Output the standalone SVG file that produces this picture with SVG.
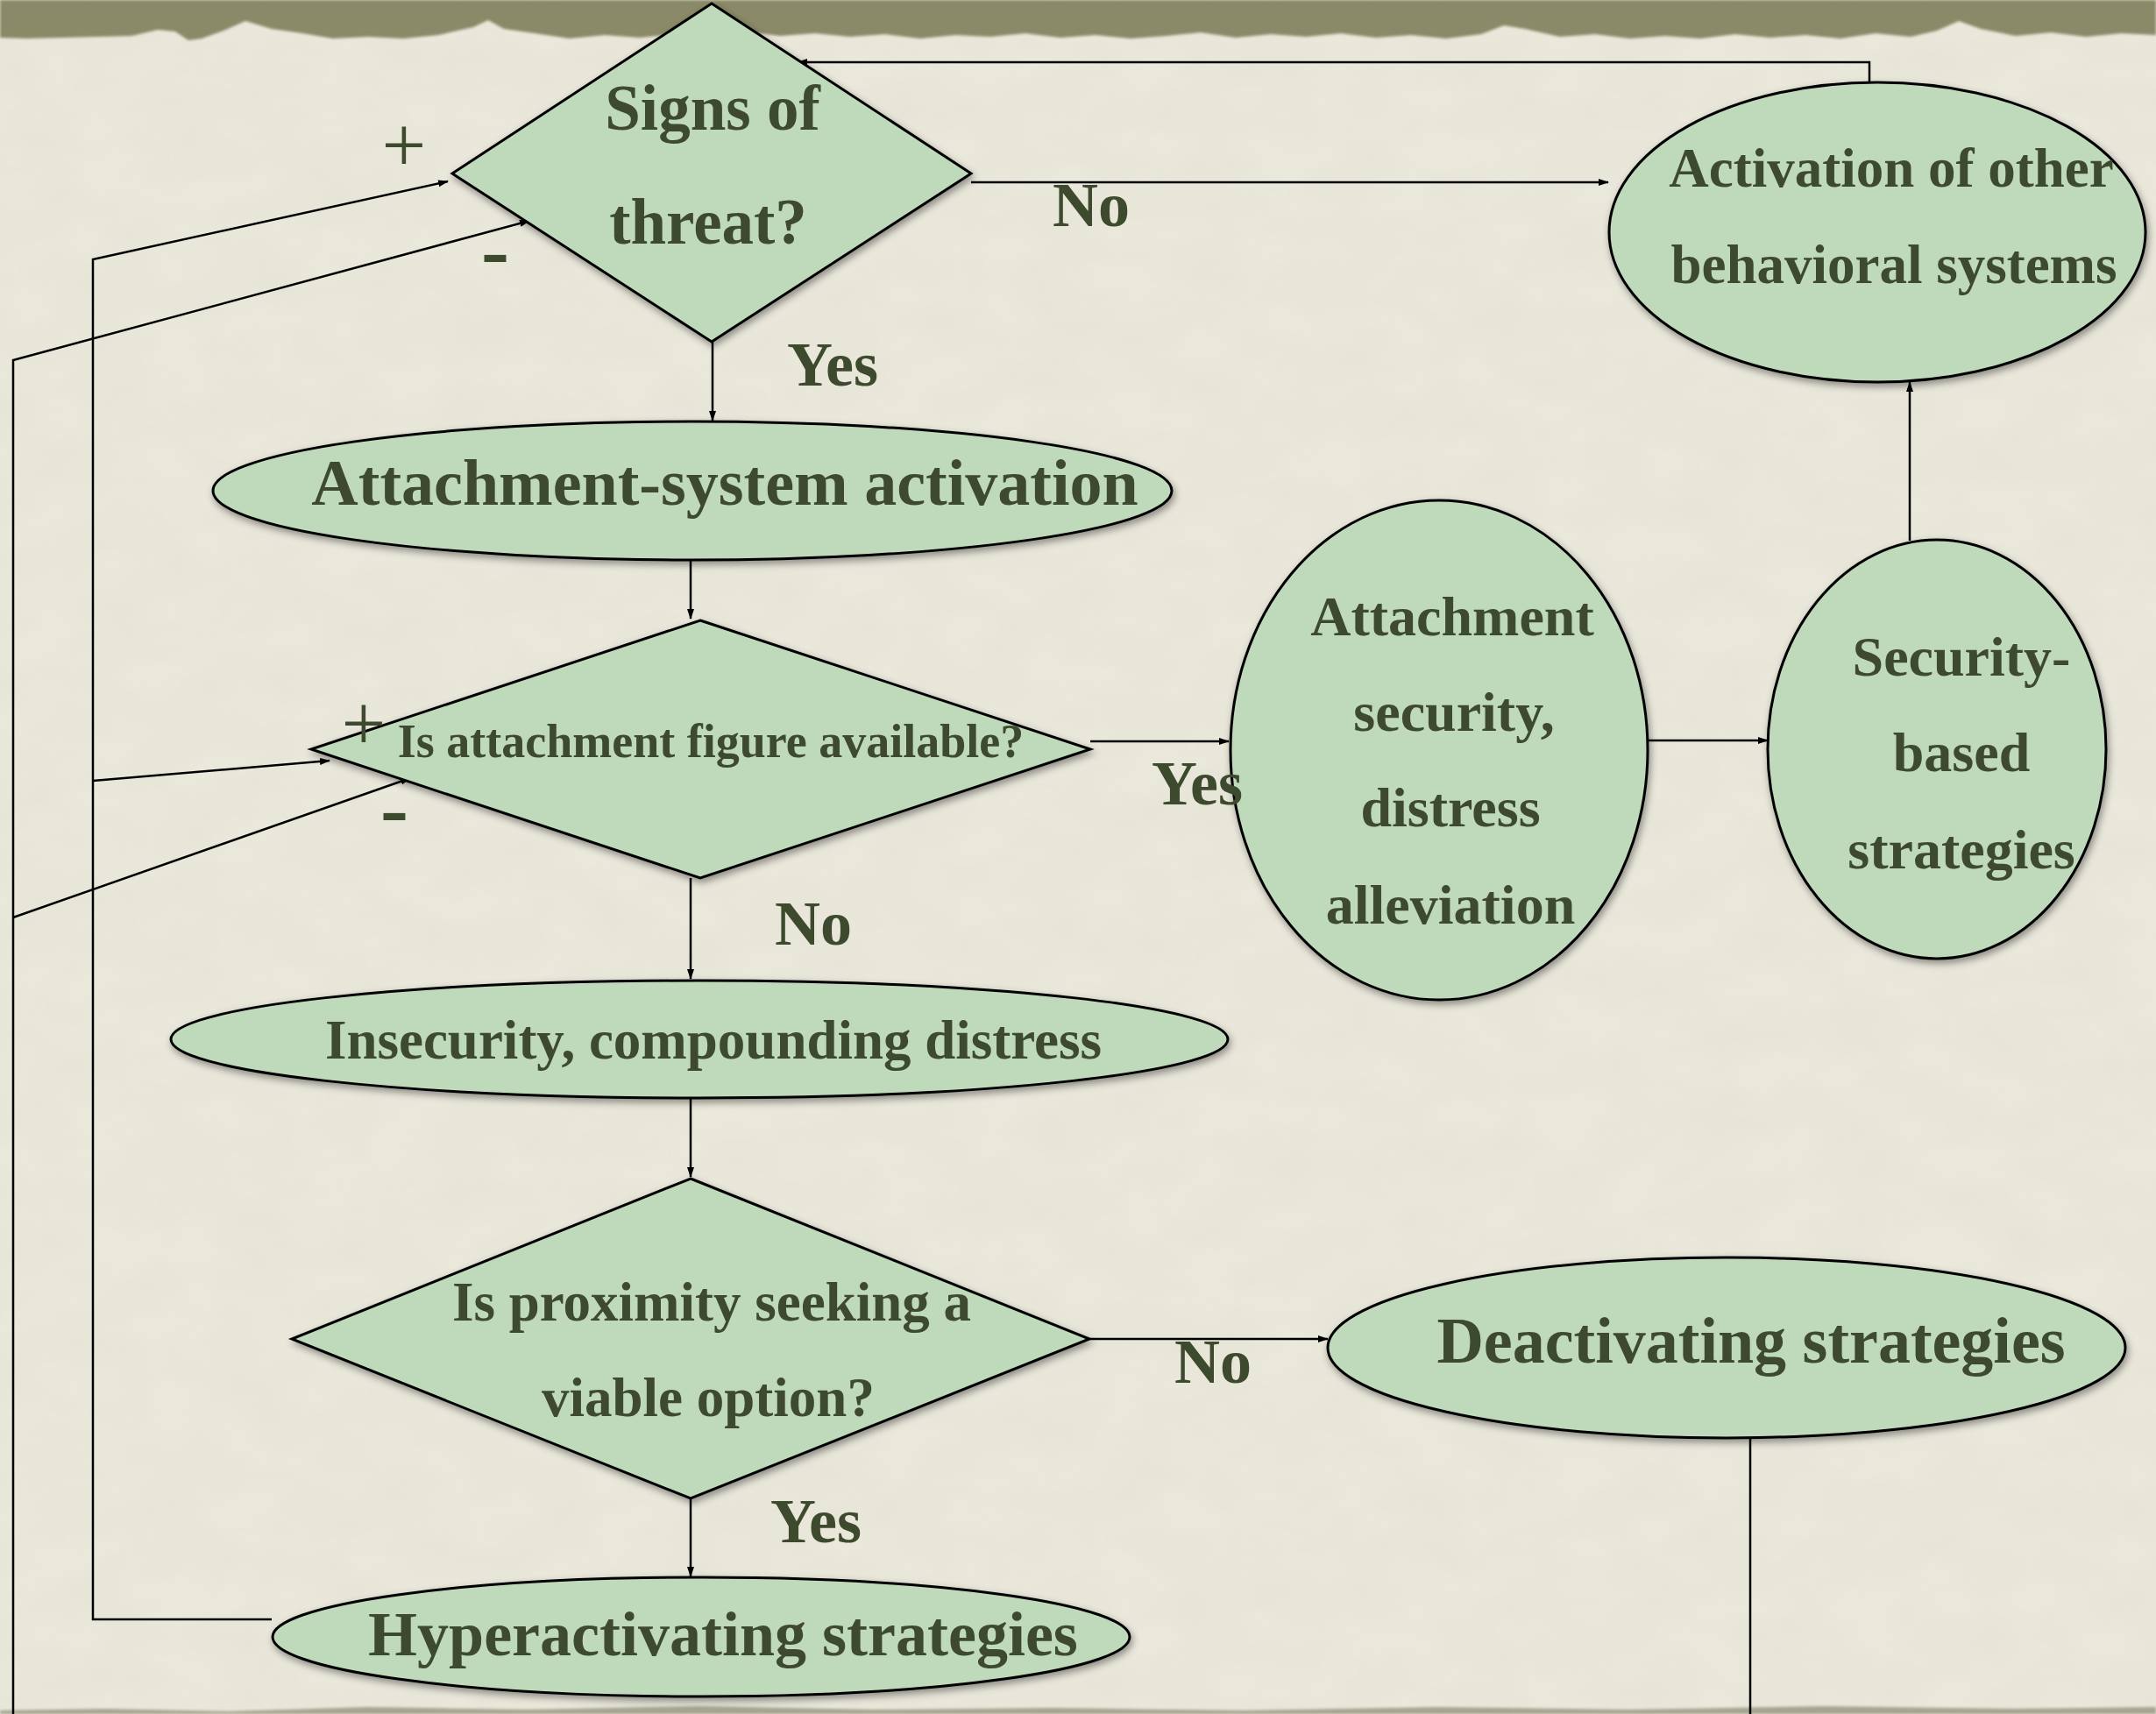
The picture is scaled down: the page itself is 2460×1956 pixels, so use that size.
<svg xmlns="http://www.w3.org/2000/svg" width="2460" height="1956" viewBox="0 0 2460 1956">
  <defs>
    <style>
      .node { fill: #bfd9bb; stroke: #000; stroke-width: 3; filter: url(#shadow); }
      .t { font-family: "Liberation Serif", "Times New Roman", serif; font-weight: bold; fill: #3e4a2d; text-anchor: middle; }
      .sign { font-family: "Liberation Serif", "Times New Roman", serif; fill: #3e4a2d; text-anchor: middle; }
      .conn { fill: none; stroke: #000; stroke-width: 2.5; }
      .arrow { marker-end: url(#ah); }
    </style>
    <marker id="ah" viewBox="0 0 12 8" refX="11" refY="4" markerWidth="12" markerHeight="8" markerUnits="userSpaceOnUse" orient="auto">
      <path d="M0,0 L12,4 L0,8 z" fill="#000"/>
    </marker>
    <filter id="shadow" x="-10%" y="-10%" width="120%" height="130%">
      <feDropShadow dx="2" dy="4" stdDeviation="4" flood-color="#000" flood-opacity="0.4"/>
    </filter>
    <filter id="grain" x="0" y="0" width="100%" height="100%">
      <feTurbulence type="fractalNoise" baseFrequency="0.012 0.02" numOctaves="4" seed="7" result="n"/>
      <feColorMatrix type="matrix" values="0 0 0 0 0.45  0 0 0 0 0.44  0 0 0 0 0.35  0 0 0 0.35 -0.05"/>
    </filter>
    <filter id="soft" filterUnits="userSpaceOnUse" x="-20" y="-20" width="2500" height="2000">
      <feGaussianBlur stdDeviation="1.5"/>
    </filter>
  </defs>

  <!-- paper background -->
  <rect width="2460" height="1956" fill="#ebe9dc"/>
  <rect width="2460" height="1956" filter="url(#grain)" opacity="0.3"/>

  <!-- torn strip along the top edge -->
  <path fill="#8a8a68" filter="url(#soft)" d="M0,0 H2460 V40 L2420,38 L2380,42 L2340,37 L2300,41 L2260,33 L2235,24 L2210,35 L2180,42 L2140,38 L2100,44 L2060,40 L2020,43 L1980,39 L1940,44 L1900,41 L1860,44 L1820,39 L1780,42 L1740,33 L1716,29 L1690,39 L1650,44 L1610,40 L1570,43 L1530,38 L1490,42 L1450,39 L1410,43 L1370,37 L1330,41 L1290,44 L1250,40 L1210,43 L1170,38 L1130,42 L1090,40 L1050,44 L1010,39 L970,42 L930,38 L890,41 L850,36 L810,42 L770,39 L730,43 L690,40 L650,44 L610,38 L575,33 L557,23 L540,31 L500,40 L460,44 L420,42 L380,44 L345,38 L310,33 L280,24 L255,35 L230,44 L215,46 L200,36 L180,34 L150,41 L110,42 L70,43 L30,44 L0,43 Z"/>
  <!-- worn strip along the bottom edge -->
  <path fill="#6f6f55" opacity="0.55" filter="url(#soft)" d="M0,1956 V1952 L120,1950 L260,1953 L420,1948 L600,1951 L800,1947 L1000,1951 L1200,1949 L1420,1952 L1640,1948 L1860,1951 L2080,1947 L2300,1950 L2460,1948 V1956 Z"/>

  <!-- connectors -->
  <g id="connectors">
    <path class="conn arrow" d="M813,390 V480"/>
    <path class="conn arrow" d="M788,640 V706"/>
    <path class="conn arrow" d="M788,1002 V1117"/>
    <path class="conn arrow" d="M788,1253 V1343"/>
    <path class="conn arrow" d="M788,1710 V1799"/>
    <path class="conn arrow" d="M1243,1528 H1515"/>
    <path class="conn arrow" d="M1108,208 H1835"/>
    <path class="conn arrow" d="M1244,846 H1402"/>
    <path class="conn arrow" d="M1859,845 H2017"/>
    <path class="conn arrow" d="M2179,617 V436"/>
    <path class="conn arrow" d="M2133,94 V71 H910"/>
    <path class="conn arrow" d="M310,1848 H106 V296 L511,207"/>
    <path class="conn arrow" d="M106,891 L376,868"/>
    <path class="conn" d="M1997,1641 V1956"/>
    <path class="conn arrow" d="M15,1956 V411 L604,252"/>
    <path class="conn arrow" d="M15,1047 L468,888"/>
  </g>

  <!-- decision: signs of threat -->
  <g id="threat">
    <polygon class="node" points="812,4 1108,198 812,390 516,198"/>
    <text class="t" x="813" y="148" font-size="73">Signs of</text>
    <text class="t" x="808" y="278" font-size="73">threat?</text>
  </g>

  <g id="activation">
    <ellipse class="node" cx="790" cy="560" rx="547" ry="79"/>
    <text class="t" x="827" y="576" font-size="74">Attachment-system activation</text>
  </g>

  <g id="available">
    <polygon class="node" points="799,708 1244,855 799,1002 355,855"/>
    <text class="t" x="811" y="864" font-size="54">Is attachment figure available?</text>
  </g>

  <g id="insecurity">
    <ellipse class="node" cx="798" cy="1186" rx="603" ry="67"/>
    <text class="t" x="814" y="1208" font-size="63">Insecurity, compounding distress</text>
  </g>

  <g id="proximity">
    <polygon class="node" points="788,1345 1243,1528 788,1710 333,1528"/>
    <text class="t" x="812" y="1507" font-size="63">Is proximity seeking a</text>
    <text class="t" x="808" y="1616" font-size="63">viable option?</text>
  </g>

  <g id="hyperactivating">
    <ellipse class="node" cx="800" cy="1868" rx="489" ry="68"/>
    <text class="t" x="825" y="1889" font-size="72">Hyperactivating strategies</text>
  </g>

  <g id="deactivating">
    <ellipse class="node" cx="1970" cy="1538" rx="455" ry="103"/>
    <text class="t" x="1998" y="1555" font-size="74">Deactivating strategies</text>
  </g>

  <g id="security">
    <ellipse class="node" cx="1642" cy="856" rx="238" ry="285"/>
    <text class="t" x="1657" y="725" font-size="64">Attachment</text>
    <text class="t" x="1659" y="834" font-size="64">security,</text>
    <text class="t" x="1655" y="943" font-size="64">distress</text>
    <text class="t" x="1655" y="1054" font-size="64">alleviation</text>
  </g>

  <g id="security-based">
    <ellipse class="node" cx="2210" cy="855" rx="193" ry="239"/>
    <text class="t" x="2238" y="771" font-size="64">Security-</text>
    <text class="t" x="2238" y="880" font-size="64">based</text>
    <text class="t" x="2238" y="991" font-size="64">strategies</text>
  </g>

  <g id="other-systems">
    <ellipse class="node" cx="2142" cy="265" rx="306" ry="171"/>
    <text class="t" x="2158" y="213" font-size="63">Activation of other</text>
    <text class="t" x="2161" y="323" font-size="63">behavioral systems</text>
  </g>

  <!-- branch labels -->
  <g id="labels">
    <text class="t" x="1245" y="258" font-size="72">No</text>
    <text class="t" x="950" y="440" font-size="72">Yes</text>
    <text class="t" x="1366" y="918" font-size="72">Yes</text>
    <text class="t" x="928" y="1078" font-size="72">No</text>
    <text class="t" x="1384" y="1578" font-size="72">No</text>
    <text class="t" x="931" y="1760" font-size="72">Yes</text>
    <text class="sign" x="461" y="196" font-size="90">+</text>
    <text class="t" x="565" y="317" font-size="96">-</text>
    <text class="sign" x="415" y="856" font-size="90">+</text>
    <text class="t" x="450" y="954" font-size="96">-</text>
  </g>
</svg>
